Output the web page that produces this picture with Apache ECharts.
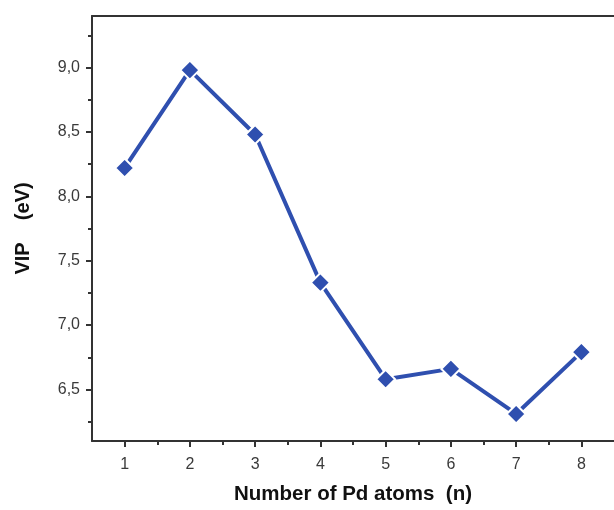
<!DOCTYPE html>
<html>
<head>
<meta charset="utf-8">
<style>
  html, body { margin: 0; padding: 0; background: #ffffff; }
  #chart { width: 614px; height: 510px; }
</style>
<script src="https://cdn.jsdelivr.net/npm/echarts@6/dist/echarts.min.js"></script>
</head>
<body>
<div id="chart"></div>
<script>
// Number of Pd atoms in the cluster
const atomCounts = [1, 2, 3, 4, 5, 6, 7, 8];
// Vertical ionization potential (eV) for each cluster size
const vipValues = [8.22, 8.98, 8.48, 7.33, 6.58, 6.66, 6.31, 6.79];
// Axis tick positions
const xMajorTicks = [1, 2, 3, 4, 5, 6, 7, 8];
const xMinorTicks = [1.5, 2.5, 3.5, 4.5, 5.5, 6.5, 7.5];
const yMajorTicks = [6.5, 7.0, 7.5, 8.0, 8.5, 9.0];
const yMinorTicks = [6.25, 6.75, 7.25, 7.75, 8.25, 8.75, 9.25];

const axisColor = '#333333';
const lineColor = '#2f4faf';
const fontFamily = 'Liberation Sans, Arial, sans-serif';

const chart = echarts.init(document.getElementById('chart'), null, { renderer: 'canvas' });

const xBase = { type: 'value', min: 0.5, max: 8.5, splitLine: { show: false } };
const yBase = { type: 'value', min: 6.1, max: 9.4, splitLine: { show: false } };

chart.setOption({
  animation: false,
  backgroundColor: '#ffffff',
  grid: { left: 92, right: -1, top: 16, bottom: 67, show: false },
  xAxis: [
    Object.assign({}, xBase, {
      position: 'bottom',
      name: 'Number of Pd atoms  (n)',
      nameLocation: 'middle',
      nameGap: 43,
      nameTextStyle: { fontFamily, fontSize: 20.5, fontWeight: 'bold', color: '#111' },
      axisLine: { show: true, onZero: false, lineStyle: { color: axisColor, width: 2 } },
      axisTick: { show: true, inside: false, length: 6, customValues: xMajorTicks,
        lineStyle: { color: axisColor, width: 2 } },
      axisLabel: { show: true, customValues: xMajorTicks, margin: 16,
        fontFamily, fontSize: 16, color: '#3a3a3a' }
    }),
    Object.assign({}, xBase, {
      position: 'bottom',
      axisLine: { show: false, onZero: false },
      axisTick: { show: true, inside: false, length: 4, customValues: xMinorTicks,
        lineStyle: { color: axisColor, width: 2 } },
      axisLabel: { show: false }
    }),
    // top frame line
    Object.assign({}, xBase, {
      position: 'top',
      axisLine: { show: true, onZero: false, lineStyle: { color: axisColor, width: 2 } },
      axisTick: { show: false },
      axisLabel: { show: false }
    })
  ],
  yAxis: [
    Object.assign({}, yBase, {
      position: 'left',
      name: 'VIP    (eV)',
      nameLocation: 'middle',
      nameGap: 59,
      nameRotate: 90,
      nameTextStyle: { fontFamily, fontSize: 20, fontWeight: 'bold', color: '#111' },
      axisLine: { show: true, onZero: false, lineStyle: { color: axisColor, width: 2 } },
      axisTick: { show: true, inside: false, length: 6, customValues: yMajorTicks,
        lineStyle: { color: axisColor, width: 2 } },
      axisLabel: { show: true, customValues: yMajorTicks, margin: 12,
        fontFamily, fontSize: 16, color: '#3a3a3a',
        formatter: v => v.toFixed(1).replace('.', ',') }
    }),
    Object.assign({}, yBase, {
      position: 'left',
      axisLine: { show: false, onZero: false },
      axisTick: { show: true, inside: false, length: 4, customValues: yMinorTicks,
        lineStyle: { color: axisColor, width: 2 } },
      axisLabel: { show: false }
    })
  ],
  series: [{
    type: 'line',
    xAxisIndex: 0,
    yAxisIndex: 0,
    data: atomCounts.map((n, i) => [n, vipValues[i]]),
    symbol: 'diamond',
    symbolSize: 19,
    lineStyle: { color: lineColor, width: 4 },
    itemStyle: { color: lineColor, borderColor: '#ffffff', borderWidth: 2 },
    z: 3
  }]
});
</script>
</body>
</html>
